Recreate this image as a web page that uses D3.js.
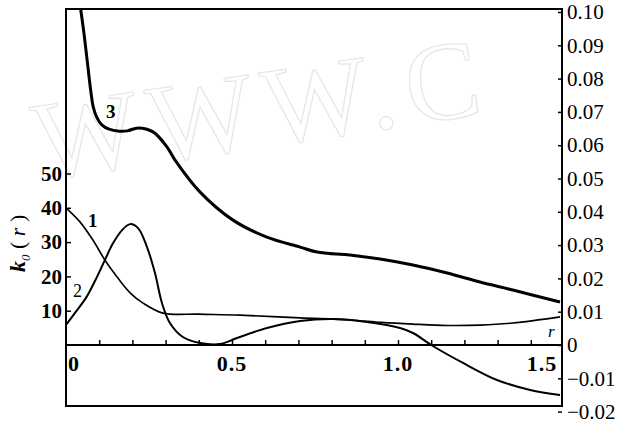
<!doctype html>
<html lang="en">
    <head>
        <meta charset="utf-8">
        <title>k0(r)</title>
        <script src="https://cdn.jsdelivr.net/npm/d3@7"></script>
        <style>
            body { margin: 0; background: #fff; }
            svg { display: block; font-family: "Liberation Serif", "DejaVu Serif", serif; }
        </style>
    </head>
    <body>
        <script>
            // curve 1 is read on the left axis (k0), curves 2 and 3 on the right axis
            var r1 = [0, 0.042, 0.081, 0.117, 0.154, 0.193, 0.232, 0.292, 0.40, 0.524, 0.705, 0.855, 0.95, 1.045, 1.148, 1.247, 1.346, 1.488];
            var k1 = [40, 35.9, 30.6, 24.8, 19.8, 15.2, 12.2, 9.3, 9.0, 8.7, 7.9, 7.3, 6.6, 6.1, 5.7, 5.8, 6.4, 8.2];

            var r2 = [0, 0.03, 0.063, 0.093, 0.117, 0.142, 0.169, 0.193, 0.217, 0.244, 0.268, 0.289, 0.313, 0.352, 0.404, 0.464, 0.515, 0.605, 0.705, 0.804, 0.907, 1.006, 1.045, 1.105, 1.196, 1.298, 1.398, 1.488];
            var k2 = [0.0060, 0.0100, 0.0146, 0.0204, 0.0255, 0.0306, 0.0345, 0.0363, 0.0351, 0.0294, 0.0216, 0.0126, 0.0066, 0.0024, 0.0006, 0.0003, 0.0021, 0.0051, 0.0072, 0.0078, 0.0069, 0.0051, 0.0036, -0.0003, -0.0054, -0.0105, -0.0135, -0.0150];

            var r3 = [0.044, 0.054, 0.066, 0.075, 0.082, 0.092, 0.107, 0.13, 0.16, 0.185, 0.217, 0.262, 0.304, 0.328, 0.404, 0.503, 0.605, 0.705, 0.756, 0.855, 0.946, 1.045, 1.148, 1.247, 1.346, 1.488];
            var k3 = [0.101, 0.0937, 0.0835, 0.0760, 0.0715, 0.0685, 0.0662, 0.0648, 0.0642, 0.0643, 0.0652, 0.0640, 0.0595, 0.0556, 0.0459, 0.0375, 0.0324, 0.0294, 0.0279, 0.0270, 0.0258, 0.0240, 0.0216, 0.0189, 0.0165, 0.0129];

            var leftTicks = [10, 20, 30, 40, 50];
            var rightTicks = [0.10, 0.09, 0.08, 0.07, 0.06, 0.05, 0.04, 0.03, 0.02, 0.01, 0, -0.01, -0.02];
            var xTicks = [0.1, 0.2, 0.3, 0.4, 0.5, 0.6, 0.7, 0.8, 0.9, 1.0, 1.1, 1.2, 1.3, 1.4];
            var xLabels = ["0", "0.5", "1.0", "1.5"];

            var svgW = 624, svgH = 426;
            var frame = {left: 66, right: 562, top: 9, bottom: 406};

            var x = d3.scaleLinear().domain([0, 1.5]).range([66, 564]);
            var yL = d3.scaleLinear().domain([0, 50]).range([345, 173.5]);
            var yR = d3.scaleLinear().domain([-0.02, 0.10]).range([411.6, 12]);

            var svg = d3.select("body").append("svg")
                        .attr("width", svgW)
                        .attr("height", svgH);

            // faint watermark of the scan
            svg.append("text")
               .text("WWW.C")
               .attr("transform", "translate(40,180) rotate(-8.5)")
               .attr("font-size", 112)
               .attr("letter-spacing", 10)
               .attr("fill", "none")
               .attr("stroke", "#e6e6e6")
               .attr("stroke-width", 1.2);

            // frame
            svg.append("rect")
               .attr("x", frame.left)
               .attr("y", frame.top)
               .attr("width", frame.right - frame.left)
               .attr("height", frame.bottom - frame.top)
               .attr("fill", "none")
               .attr("stroke", "#000")
               .attr("stroke-width", 2);

            // left axis
            var gL = svg.append("g")
               .attr("transform", "translate(" + frame.left + ",0)")
               .call(d3.axisLeft(yL).tickValues(leftTicks).tickSize(-5).tickPadding(4));
            gL.select(".domain").remove();
            gL.selectAll("line").attr("stroke-width", 1.5);
            gL.selectAll("text")
              .attr("font-family", "Liberation Serif, serif")
              .attr("font-size", 21)
              .attr("font-weight", "bold");

            // right axis
            var gR = svg.append("g")
               .attr("transform", "translate(" + frame.right + ",0)")
               .call(d3.axisRight(yR).tickValues(rightTicks).tickSize(-4).tickPadding(5)
                       .tickFormat(d => d === 0 ? "0" : (d < 0 ? "\u2212" + (-d).toFixed(2) : d.toFixed(2))));
            gR.select(".domain").remove();
            gR.selectAll("line").attr("stroke-width", 1.5);
            gR.selectAll("text")
              .attr("font-family", "Liberation Serif, serif")
              .attr("font-size", 21);

            // zero line with ticks
            var gX = svg.append("g")
               .attr("transform", "translate(0," + yR(0) + ")")
               .call(d3.axisBottom(x).tickValues(xTicks).tickSize(-5).tickFormat(""));
            gX.select(".domain").remove();
            gX.selectAll("line").attr("stroke-width", 1.5);
            svg.append("line")
               .attr("x1", frame.left).attr("x2", frame.right)
               .attr("y1", yR(0)).attr("y2", yR(0))
               .attr("stroke", "#000").attr("stroke-width", 2);

            var labelX = [x(0) + 2, x(0.5), x(1.0), x(1.5) - 22];
            var labelAnchor = ["start", "middle", "middle", "middle"];
            svg.selectAll(".xlab")
               .data(xLabels)
               .enter()
               .append("text")
               .attr("class", "xlab")
               .text(d => d)
               .attr("x", (d, i) => labelX[i])
               .attr("y", yR(0) + 26)
               .attr("text-anchor", (d, i) => labelAnchor[i])
               .attr("font-size", 22)
               .attr("font-weight", "bold")
               .attr("letter-spacing", 1);

            svg.append("text")
               .text("r")
               .attr("x", 548)
               .attr("y", 337)
               .attr("font-size", 17)
               .attr("font-style", "italic");

            // y title
            var title = svg.append("text")
               .attr("transform", "translate(25,272) rotate(-90)")
               .attr("font-size", 22);
            title.append("tspan").text("k").attr("font-weight", "bold").attr("font-style", "italic");
            title.append("tspan").text("0").attr("font-size", 13).attr("dy", 5).attr("font-style", "italic");
            title.append("tspan").text(" ( ").attr("dy", -5);
            title.append("tspan").text("r").attr("font-style", "italic");
            title.append("tspan").text(" )");

            // curves
            var lineL = d3.line().x(d => x(d[0])).y(d => yL(d[1])).curve(d3.curveCatmullRom.alpha(0.5));
            var lineR = d3.line().x(d => x(d[0])).y(d => yR(d[1])).curve(d3.curveCatmullRom.alpha(0.5));

            svg.append("path")
               .datum(d3.zip(r1, k1))
               .attr("d", lineL)
               .attr("fill", "none")
               .attr("stroke", "#000")
               .attr("stroke-width", 1.6);

            svg.append("path")
               .datum(d3.zip(r2, k2))
               .attr("d", lineR)
               .attr("fill", "none")
               .attr("stroke", "#000")
               .attr("stroke-width", 2);

            svg.append("path")
               .datum(d3.zip(r3, k3))
               .attr("d", lineR)
               .attr("fill", "none")
               .attr("stroke", "#000")
               .attr("stroke-width", 3);

            // curve numbers
            svg.append("text").text("3").attr("x", 106).attr("y", 118)
               .attr("font-size", 19).attr("font-weight", "bold");
            svg.append("text").text("1").attr("x", 88).attr("y", 227)
               .attr("font-size", 19).attr("font-weight", "bold");
            svg.append("text").text("2").attr("x", 73).attr("y", 297)
               .attr("font-size", 18);
        </script>
    </body>
</html>
